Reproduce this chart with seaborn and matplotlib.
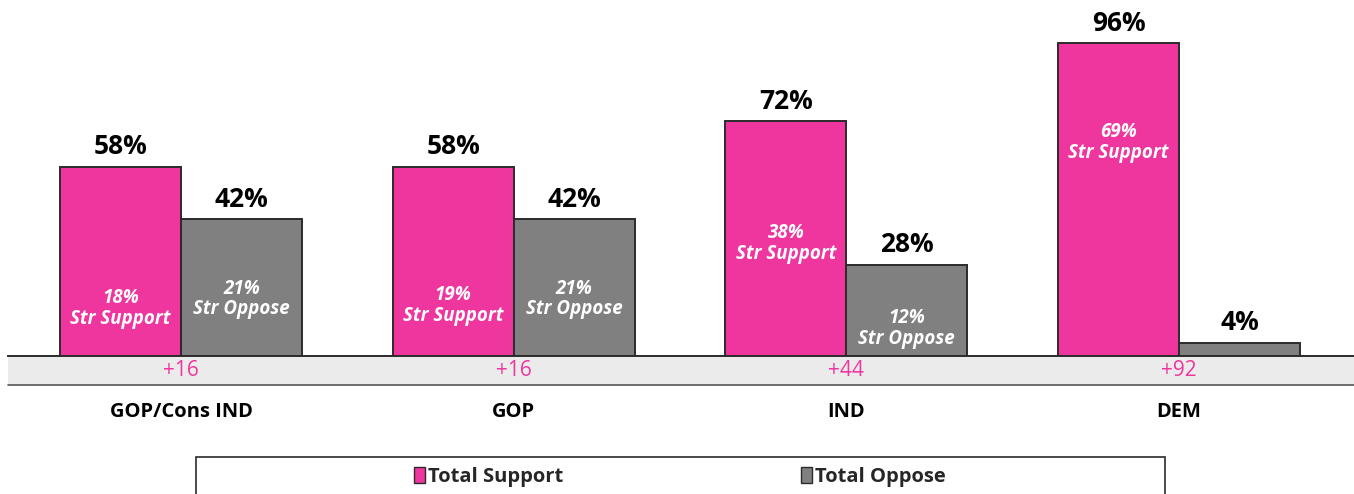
import pandas as pd
import matplotlib.pyplot as plt
import seaborn as sns
from matplotlib.patches import Rectangle, Patch

# chart data
groups = ["GOP/Cons IND", "GOP", "IND", "DEM"]
total_support = [58, 58, 72, 96]
total_oppose = [42, 42, 28, 4]
str_support = [18, 19, 38, 69]
str_oppose = [21, 21, 12, None]
margins = ["+16", "+16", "+44", "+92"]
series = ["Total Support", "Total Oppose"]

PINK = "#EF369E"
GRAY = "#808080"
EDGE = "#2b2b2b"

df = pd.DataFrame({
    "group": groups * 2,
    "series": [series[0]] * 4 + [series[1]] * 4,
    "value": total_support + total_oppose,
})

sns.set_theme(style="white")
plt.rcParams["font.family"] = ["Open Sans", "DejaVu Sans"]

W, H = 1354, 494
fig = plt.figure(figsize=(W / 100, H / 100), dpi=100)
ax = fig.add_axes([8 / W, (H - 356) / H, (W - 8) / W, 356 / H])

sns.barplot(data=df, x="group", y="value", hue="series", order=groups,
            hue_order=series, palette=[PINK, GRAY], saturation=1,
            width=0.727, edgecolor=EDGE, linewidth=1.4, legend=False, ax=ax)

ax.set_xlim(-0.52, 3.526)
ax.set_ylim(0, 109.2)
for s in ["top", "right", "left"]:
    ax.spines[s].set_visible(False)
ax.spines["bottom"].set_color(EDGE)
ax.spines["bottom"].set_linewidth(1.4)
ax.spines["bottom"].set_zorder(5)
ax.set_xlabel("")
ax.set_ylabel("")
ax.set_yticks([])
ax.set_xticks([])

# grey band under the baseline
ax.add_patch(Rectangle((0, -8.9), 1, 8.9, transform=ax.get_yaxis_transform(),
                       facecolor="#EBEBEB", edgecolor="none", clip_on=False, zorder=0))
ax.plot([0, 1], [-8.9, -8.9], transform=ax.get_yaxis_transform(), color="#555555",
        lw=1.2, clip_on=False)

off = 0.727 / 4
for i in range(len(groups)):
    ax.text(i - off, total_support[i] + 2.0, f"{total_support[i]}%", ha="center",
            va="bottom", fontsize=19, fontweight="bold", color="black")
    ax.text(i + off, total_oppose[i] + 2.0, f"{total_oppose[i]}%", ha="center",
            va="bottom", fontsize=19, fontweight="bold", color="black")
    ax.text(i - off, str_support[i] - 3.5, f"{str_support[i]}%\nStr Support",
            ha="center", va="center", fontsize=13.5, fontweight="bold",
            style="italic", color="white", linespacing=1.05)
    if str_oppose[i] is not None:
        ax.text(i + off, str_oppose[i] - 3.5, f"{str_oppose[i]}%\nStr Oppose",
                ha="center", va="center", fontsize=13.5, fontweight="bold",
                style="italic", color="white", linespacing=1.05)
    # margin row and category labels below the axis
    ax.text(i, -4.4, margins[i], ha="center", va="center", fontsize=15,
            color=PINK, clip_on=False, zorder=6)
    ax.text(i, -17.2, groups[i], ha="center", va="center", fontsize=14.5,
            fontweight="bold", color="black", clip_on=False)

# legend box
box = Rectangle((196 / W, -0.05), (1165 - 196) / W, (H - 457) / H + 0.05,
                transform=fig.transFigure, facecolor="white",
                edgecolor=EDGE, linewidth=1.2)
fig.patches.append(box)
handles = [Patch(facecolor=PINK, edgecolor=EDGE), Patch(facecolor=GRAY, edgecolor=EDGE)]
leg = fig.legend(handles, series, loc="center", bbox_to_anchor=(680 / W, (H - 477) / H),
                 ncol=2, frameon=False, handlelength=0.55, handleheight=0.8,
                 handletextpad=0.15, columnspacing=11.8,
                 prop={"weight": "bold", "size": 14.5})

fig.savefig("out.png", dpi=100)
